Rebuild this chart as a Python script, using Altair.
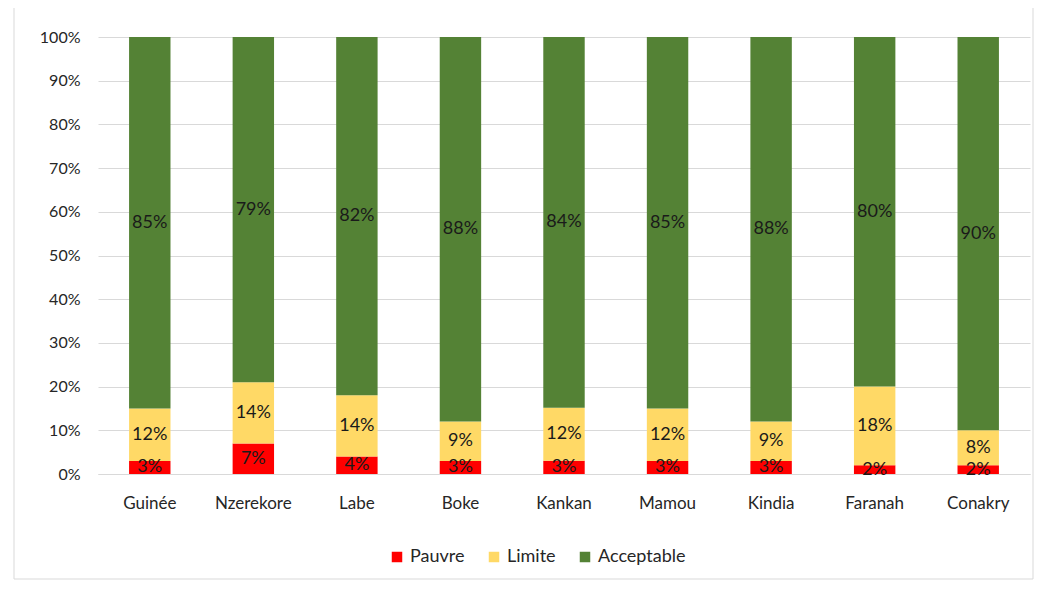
import altair as alt
import pandas as pd

regions = ["Guinée", "Nzerekore", "Labe", "Boke", "Kankan", "Mamou", "Kindia", "Faranah", "Conakry"]
pauvre = [3, 7, 4, 3, 3, 3, 3, 2, 2]
limite = [12, 14, 14, 9, 12, 12, 9, 18, 8]
acceptable = [85, 79, 82, 88, 84, 85, 88, 80, 90]

series = ["Pauvre", "Limite", "Acceptable"]
colors = ["#FF0000", "#FFD966", "#548235"]

rows = []
for i, r in enumerate(regions):
    for k, (s, vals) in enumerate(zip(series, [pauvre, limite, acceptable])):
        rows.append({"region": r, "serie": s, "ord": k, "value": vals[i]})
df = pd.DataFrame(rows)

FONT = "Lato"
TXT = "#262626"

base = alt.Chart(df)

xenc = alt.X("region:N", sort=regions, title=None,
             scale=alt.Scale(paddingInner=0.6, paddingOuter=0.3),
             axis=alt.Axis(labelAngle=0, ticks=False, domainColor="#d9d9d9",
                           labelPadding=21, labelFontSize=17, labelColor=TXT, labelFont=FONT))

bars = base.mark_bar().encode(
    x=xenc,
    y=alt.Y("value:Q", stack="normalize", title=None,
            scale=alt.Scale(domain=[0, 1]),
            axis=alt.Axis(format=".0%", values=[i / 10 for i in range(11)], ticks=False,
                          domain=False, gridColor="#d9d9d9", labelPadding=18,
                          labelFontSize=16, labelColor=TXT, labelFont=FONT)),
    color=alt.Color("serie:N", scale=alt.Scale(domain=series, range=colors),
                    legend=alt.Legend(title=None, orient="none", direction="horizontal",
                                      legendX=290, legendY=511,
                                      symbolType="square", symbolSize=110, symbolStrokeWidth=0,
                                      labelFontSize=18, labelColor=TXT, labelFont=FONT,
                                      columnPadding=20)),
    order=alt.Order("ord:Q", sort="ascending"),
)

labels = base.transform_joinaggregate(
    total="sum(value)", groupby=["region"]
).transform_window(
    cum="sum(value)", groupby=["region"], sort=[alt.SortField("ord", order="ascending")]
).transform_calculate(
    mid="(datum.cum - datum.value / 2) / datum.total",
    label="datum.value + '%'"
).mark_text(fontSize=18, font=FONT, color="#1a1a1a").encode(
    x=alt.X("region:N", sort=regions),
    y=alt.Y("mid:Q"),
    text="label:N",
)

frame = alt.Chart(pd.DataFrame({"a": [0]})).mark_rect(
    fill=None, stroke="#d9d9d9", strokeWidth=1
).encode(
    x=alt.value(-84), x2=alt.value(935), y=alt.value(-30), y2=alt.value(542)
)

chart = alt.layer(bars, labels, frame).properties(
    width=932, height=437,
    autosize=alt.AutoSizeParams(type="none"),
    padding={"left": 90, "top": 29, "right": 5, "bottom": 106},
).configure_view(stroke=None)

chart.save("out.html", embed_options={"renderer": "svg", "actions": False})
